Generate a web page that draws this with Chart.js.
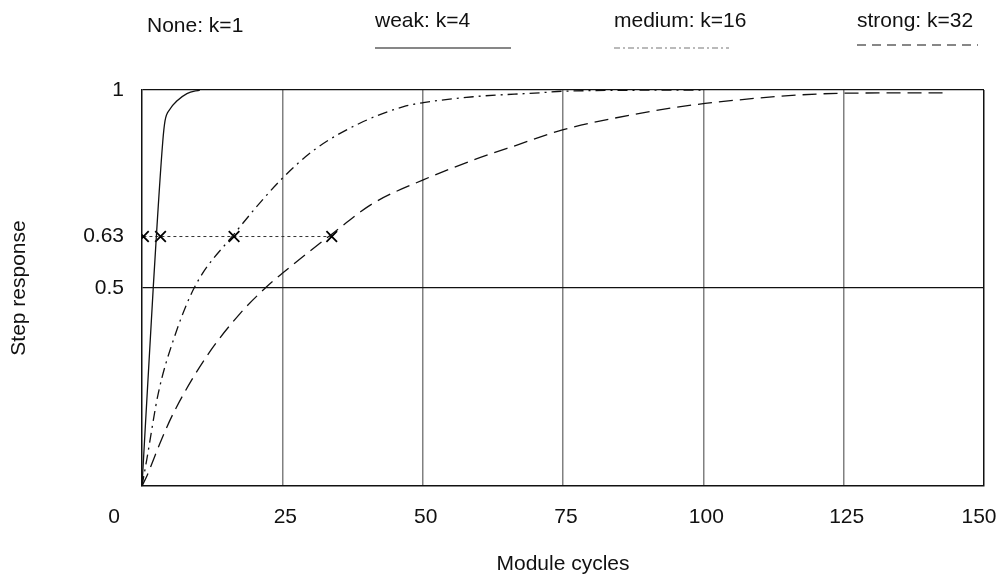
<!DOCTYPE html>
<html lang="en">
<head>
  <meta charset="UTF-8" />
  <title>Step response</title>
  <script src="https://cdn.jsdelivr.net/npm/chart.js"></script>
  <style>
    body { margin: 0; background: #fff; }
    #wrap { width: 1003px; height: 579px; position: relative; }
  </style>
</head>
<body>
  <div id="wrap"><canvas id="stepChart"></canvas></div>

  <script>
    // values
    const xTicks = [0, 25, 50, 75, 100, 125, 150];
    const yTicks = [0.5, 0.63, 1];

    const weakX = [0, 2.0, 3.7, 4.1, 5.0, 6.2, 8.0, 10.3];
    const weakY = [0, 0.5, 0.87, 0.922, 0.952, 0.972, 0.991, 1.0];

    const mediumX = [0, 0.84, 2.9, 5.6, 9.4, 16.4, 25, 31.1, 38.8, 46.6, 50.1, 59, 70.9, 75, 100];
    const mediumY = [0, 0.066, 0.234, 0.369, 0.503, 0.636, 0.777, 0.853, 0.916, 0.958, 0.968, 0.983, 0.993, 0.997, 1.0];

    const strongX = [0, 0.95, 3.2, 5.6, 11.5, 17.5, 22.2, 25, 33.8, 41.2, 50.1, 59, 66.8, 74.9, 88.7, 100.3, 125.7, 143.4];
    const strongY = [0, 0.028, 0.108, 0.184, 0.327, 0.436, 0.503, 0.537, 0.636, 0.714, 0.773, 0.823, 0.861, 0.899, 0.941, 0.966, 0.992, 0.993];

    // time constants marked with x at 63%
    const markX = [0.25, 3.3, 16.4, 33.8];
    const markY = [0.63, 0.63, 0.63, 0.63];

    const legendLabels = ["None: k=1", "weak: k=4", "medium: k=16", "strong: k=32"];

    const toPoints = (xs, ys) => xs.map((x, i) => ({ x: x, y: ys[i] }));
    const FONT = "'Liberation Sans', Arial, sans-serif";
    const INK = "#111";

    // legend drawn by hand: label on top, line sample under it
    const topLegend = {
      id: "topLegend",
      afterDraw(chart) {
        const ctx = chart.ctx;
        const items = [
          { x: 147, y: 26, x1: null },
          { x: 375, y: 21, x1: 511, ly: 48, dash: [], color: "#111" },
          { x: 614, y: 21, x1: 729, ly: 48, dash: [6, 3, 2, 3], color: "#777" },
          { x: 857, y: 21, x1: 978, ly: 45, dash: [9, 6], color: "#111" }
        ];
        ctx.save();
        ctx.font = "21px " + FONT;
        ctx.fillStyle = INK;
        ctx.textBaseline = "middle";
        ctx.textAlign = "left";
        items.forEach((it, i) => {
          ctx.fillText(legendLabels[i], it.x, it.y);
          if (it.x1) {
            ctx.beginPath();
            ctx.setLineDash(it.dash);
            ctx.strokeStyle = it.color;
            ctx.lineWidth = 1.2;
            ctx.moveTo(it.x, it.ly);
            ctx.lineTo(it.x1, it.ly);
            ctx.stroke();
          }
        });
        ctx.restore();
      }
    };

    // x tick labels, the end ones sit off their grid line as in the original
    const xLabels = {
      id: "xLabels",
      afterDraw(chart) {
        const ctx = chart.ctx;
        const sx = chart.scales.x;
        ctx.save();
        ctx.font = "21px " + FONT;
        ctx.fillStyle = INK;
        ctx.textAlign = "center";
        ctx.textBaseline = "middle";
        xTicks.forEach((v, i) => {
          let nudge = 3;
          if (i === 0) nudge = -28;
          if (i === xTicks.length - 1) nudge = -5;
          ctx.fillText(String(v), sx.getPixelForValue(v) + nudge, chart.chartArea.bottom + 31);
        });
        ctx.restore();
      }
    };

    new Chart(document.getElementById("stepChart"), {
      type: "line",
      data: {
        datasets: [
          {
            label: legendLabels[1],
            data: toPoints(weakX, weakY),
            borderColor: "#111",
            borderWidth: 1.3,
            pointRadius: 0,
            cubicInterpolationMode: "monotone"
          },
          {
            label: legendLabels[2],
            data: toPoints(mediumX, mediumY),
            borderColor: "#111",
            borderWidth: 1.3,
            borderDash: [10, 5, 2, 5],
            pointRadius: 0,
            cubicInterpolationMode: "monotone"
          },
          {
            label: legendLabels[3],
            data: toPoints(strongX, strongY),
            borderColor: "#111",
            borderWidth: 1.3,
            borderDash: [14, 7],
            pointRadius: 0,
            cubicInterpolationMode: "monotone"
          },
          {
            label: "63%",
            data: toPoints(markX, markY),
            borderColor: "#333",
            borderWidth: 1,
            borderDash: [3, 3],
            pointStyle: "crossRot",
            pointRadius: 7.5,
            pointBorderWidth: 1.8,
            pointBorderColor: "#000"
          }
        ]
      },
      options: {
        responsive: true,
        maintainAspectRatio: false,
        animation: false,
        layout: { padding: { left: 0, right: 19, top: 90, bottom: 0 } },
        plugins: {
          legend: { display: false },
          tooltip: { enabled: false }
        },
        scales: {
          x: {
            type: "linear",
            min: 0,
            max: 150,
            afterBuildTicks: s => { s.ticks = xTicks.map(v => ({ value: v })); },
            afterFit: s => { s.height = 93; },
            ticks: { display: false },
            grid: {
              drawTicks: false,
              lineWidth: 1.5,
              color: c => c.tick.value === 150 ? "#111" : (c.tick.value === 0 ? "rgba(0,0,0,0)" : "#808080")
            },
            border: { color: "#111", width: 1.5 },
            title: {
              display: true,
              text: "Module cycles",
              color: INK,
              font: { family: FONT, size: 21 },
              padding: { top: 0, bottom: 2 }
            }
          },
          y: {
            type: "linear",
            min: 0,
            max: 1,
            afterBuildTicks: s => { s.ticks = yTicks.map(v => ({ value: v })); },
            afterFit: s => { s.width = 142; },
            ticks: {
              color: INK,
              padding: 18,
              font: { family: FONT, size: 21 },
              callback: v => String(v)
            },
            grid: {
              drawTicks: false,
              lineWidth: 1.2,
              color: c => c.tick.value === 0.63 ? "rgba(0,0,0,0)" : "#111"
            },
            border: { color: "#111", width: 1.5 },
            title: {
              display: true,
              text: "Step response",
              color: INK,
              font: { family: FONT, size: 21 },
              padding: { top: 7, bottom: 0 }
            }
          }
        }
      },
      plugins: [topLegend, xLabels]
    });
  </script>
</body>
</html>
